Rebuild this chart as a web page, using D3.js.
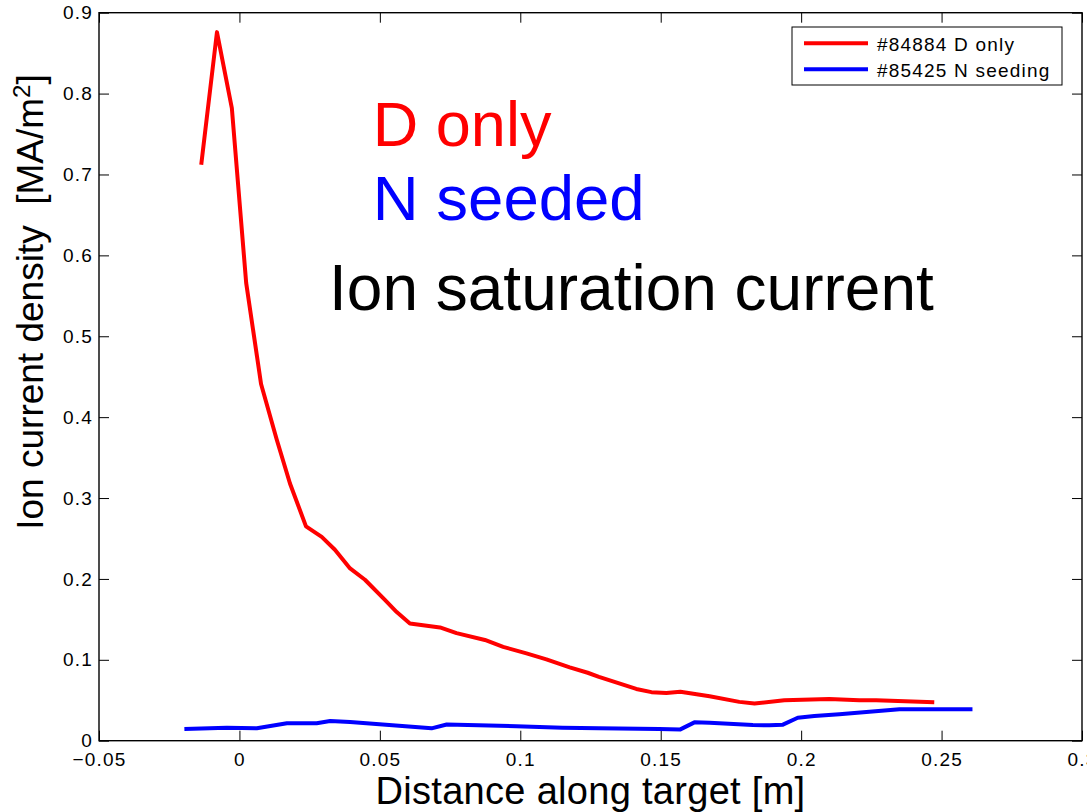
<!DOCTYPE html>
<html>
<head>
<meta charset="utf-8">
<script src="https://cdn.jsdelivr.net/npm/d3@7"></script>
<style>
  body { margin: 0; background: #fff; }
  svg text { font-family: "Liberation Sans", Arial, Helvetica, sans-serif; }
</style>
</head>
<body>
<div id="chart"></div>
<script>
// shot #84884, deuterium only
var redX = [-0.0136, -0.008, -0.0027, 0.0024, 0.0077, 0.0133, 0.018, 0.0237, 0.0293, 0.034, 0.0394, 0.0447,
            0.0518, 0.056, 0.0607, 0.0714, 0.0773, 0.0874, 0.0939, 0.1022, 0.1093, 0.1176, 0.124, 0.128,
            0.1413, 0.1467, 0.152, 0.157, 0.1674, 0.178, 0.1834, 0.194, 0.21, 0.2207, 0.2267, 0.2474];
var redY = [0.712, 0.876, 0.782, 0.566, 0.441, 0.372, 0.318, 0.265, 0.252, 0.236, 0.213, 0.199,
            0.174, 0.159, 0.145, 0.140, 0.133, 0.1245, 0.116, 0.108, 0.1006, 0.0907, 0.084, 0.079,
            0.064, 0.060, 0.059, 0.0606, 0.055, 0.048, 0.046, 0.050, 0.0515, 0.050, 0.050, 0.0475];
// shot #85425, nitrogen seeding
var blueX = [-0.0196, -0.0045, 0.0062, 0.0169, 0.0275, 0.0323, 0.0394, 0.0684, 0.0738, 0.0986, 0.115, 0.128,
             0.1494, 0.157, 0.162, 0.1674, 0.1828, 0.1887, 0.1935, 0.1988, 0.2047, 0.2136, 0.2243, 0.235, 0.261];
var blueY = [0.0145, 0.016, 0.0153, 0.0215, 0.0215, 0.0243, 0.023, 0.0153, 0.020, 0.018, 0.016, 0.0153,
             0.0145, 0.014, 0.0227, 0.0223, 0.0194, 0.019, 0.0198, 0.0284, 0.0305, 0.0326, 0.0358, 0.039, 0.039];

var xTicks = [-0.05, 0, 0.05, 0.1, 0.15, 0.2, 0.25, 0.3];
var yTicks = [0, 0.1, 0.2, 0.3, 0.4, 0.5, 0.6, 0.7, 0.8, 0.9];
var legendLabels = ["#84884 D only", "#85425 N seeding"];
var colors = ["#ff0000", "#0000ff"];

var W = 1087, H = 812;
var margin = {left: 99, top: 12.7, right: 5, bottom: 71.3};
var w = W - margin.left - margin.right,
    h = H - margin.top - margin.bottom;

var svg = d3.select("#chart").append("svg").attr("width", W).attr("height", H);
var g = svg.append("g").attr("transform", "translate(" + margin.left + "," + margin.top + ")");

var x = d3.scaleLinear().domain([-0.05, 0.3]).range([0, w]);
var y = d3.scaleLinear().domain([0, 0.9]).range([h, 0]);

var fmt = function(d) { return d === 0 ? "0" : d3.format("~g")(d); };

function styleAxis(sel, noLabels) {
    sel.select(".domain").remove();
    sel.selectAll(".tick line").attr("stroke", "#000").attr("stroke-width", 1);
    sel.selectAll("text")
        .style("font-size", "19px")
        .style("letter-spacing", "1.2px")
        .attr("fill", "#000");
    if (noLabels) sel.selectAll("text").remove();
}

g.append("g").attr("transform", "translate(0," + h + ")")
    .call(d3.axisBottom(x).tickValues(xTicks).tickFormat(fmt).tickSize(-10).tickPadding(12))
    .call(styleAxis);
g.append("g")
    .call(d3.axisTop(x).tickValues(xTicks).tickSize(-10))
    .call(styleAxis, true);
g.append("g")
    .call(d3.axisLeft(y).tickValues(yTicks).tickFormat(fmt).tickSize(-10).tickPadding(6))
    .call(styleAxis);
g.append("g").attr("transform", "translate(" + w + ",0)")
    .call(d3.axisRight(y).tickValues(yTicks).tickSize(-10))
    .call(styleAxis, true);

g.append("rect").attr("width", w).attr("height", h)
    .attr("fill", "none").attr("stroke", "#000").attr("stroke-width", 1.4);

var line = d3.line().x(function(d) { return x(d[0]); }).y(function(d) { return y(d[1]); });
var series = [d3.zip(redX, redY), d3.zip(blueX, blueY)];

g.selectAll(".series").data(series).enter().append("path")
    .attr("class", "series")
    .attr("d", line)
    .attr("fill", "none")
    .attr("stroke", function(d, i) { return colors[i]; })
    .attr("stroke-width", 4)
    .attr("stroke-linejoin", "round");

// annotations
var notes = [
    {t: "D only", x: 0.0475, y: 0.735, c: "#ff0000", s: 63},
    {t: "N seeded", x: 0.0475, y: 0.6436, c: "#0000ff", s: 63.5},
    {t: "Ion saturation current", x: 0.0319, y: 0.5324, c: "#000", s: 64}
];
g.selectAll(".note").data(notes).enter().append("text")
    .attr("x", function(d) { return x(d.x); })
    .attr("y", function(d) { return y(d.y); })
    .attr("fill", function(d) { return d.c; })
    .style("font-size", function(d) { return d.s + "px"; })
    .text(function(d) { return d.t; });

// legend
var lg = svg.append("g").attr("transform", "translate(792,27)");
lg.append("rect").attr("width", 270).attr("height", 58)
    .attr("fill", "#fff").attr("stroke", "#000").attr("stroke-width", 1);
legendLabels.forEach(function(lab, i) {
    var yy = 16.3 + i * 26;
    lg.append("line").attr("x1", 12).attr("x2", 76).attr("y1", yy).attr("y2", yy)
        .attr("stroke", colors[i]).attr("stroke-width", 4);
    lg.append("text").attr("x", 85).attr("y", yy + 7.4)
        .style("font-size", "19px").style("letter-spacing", "1.2px")
        .text(lab);
});

// axis titles
svg.append("text")
    .attr("x", margin.left + w / 2).attr("y", 804)
    .attr("text-anchor", "middle")
    .style("font-size", "38px")
    .style("letter-spacing", "0.3px")
    .text("Distance along target [m]");

var yl = svg.append("text")
    .attr("transform", "translate(43,302) rotate(-90)")
    .attr("text-anchor", "middle")
    .style("font-size", "37px")
    .style("white-space", "pre");
yl.append("tspan").text("Ion current density  [MA/m");
yl.append("tspan").attr("dy", -13).style("font-size", "24px").text("2");
yl.append("tspan").attr("dy", 13).text("]");
</script>
</body>
</html>
